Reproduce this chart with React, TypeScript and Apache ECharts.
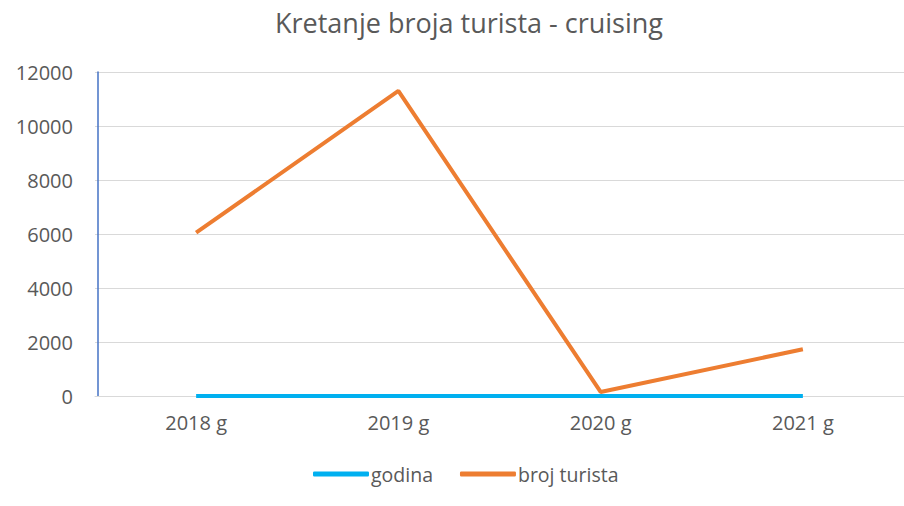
import React, { useEffect, useRef } from "react";
import * as echarts from "echarts";

const titleText = "Kretanje broja turista - cruising";
const categories = ["2018 g", "2019 g", "2020 g", "2021 g"];
const godina = [0, 0, 0, 0];
const brojTurista = [6050, 11300, 150, 1730];
const seriesNames = ["godina", "broj turista"];

export default function App() {
  const ref = useRef<HTMLDivElement>(null);
  useEffect(() => {
    if (!ref.current) return;
    const chart = echarts.init(ref.current, undefined, { renderer: "svg" });
    const font = "'Open Sans', 'Noto Sans', sans-serif";
    chart.setOption({
      animation: false,
      backgroundColor: "#ffffff",
      title: {
        text: titleText,
        left: 464,
        top: 4,
        textAlign: "center",
        textStyle: { fontFamily: font, fontSize: 27, fontWeight: "normal", color: "#595959" },
      },
      legend: {
        data: seriesNames,
        top: 459,
        left: 308,
        itemWidth: 56,
        itemHeight: 5,
        itemGap: 27,
        icon: "roundRect",
        textStyle: { fontFamily: font, fontSize: 19.5, color: "#595959", padding: [0, 0, 0, -3] },
      },
      grid: { left: 95, right: -6, top: 72, bottom: 110, containLabel: false },
      xAxis: {
        type: "category",
        data: categories,
        boundaryGap: true,
        axisLine: { show: true, lineStyle: { color: "#d9d9d9", width: 1 } },
        axisTick: { show: false },
        axisLabel: { fontFamily: font, fontSize: 20, color: "#595959", margin: 16 },
      },
      yAxis: {
        type: "value",
        min: 0,
        max: 12000,
        interval: 2000,
        offset: -3,
        axisLine: { show: true, lineStyle: { color: "#4472C4", width: 1.5 } },
        axisTick: { show: false },
        axisLabel: {
          fontFamily: font,
          fontSize: 20,
          color: "#595959",
          margin: 25,
          formatter: (v: number) => String(v),
        },
        splitLine: { lineStyle: { color: "#d9d9d9", width: 1 } },
      },
      series: [
        {
          name: seriesNames[0],
          type: "line",
          data: godina,
          symbol: "none",
          lineStyle: { color: "#00B0F0", width: 4 },
          itemStyle: { color: "#00B0F0" },
          z: 3,
        },
        {
          name: seriesNames[1],
          type: "line",
          data: brojTurista,
          symbol: "none",
          lineStyle: { color: "#ED7D31", width: 4 },
          itemStyle: { color: "#ED7D31" },
          z: 4,
        },
      ],
    });
    return () => chart.dispose();
  }, []);
  return (
    <div
      ref={ref}
      style={{ position: "absolute", left: 0, top: 0, width: 904, height: 506 }}
    />
  );
}
